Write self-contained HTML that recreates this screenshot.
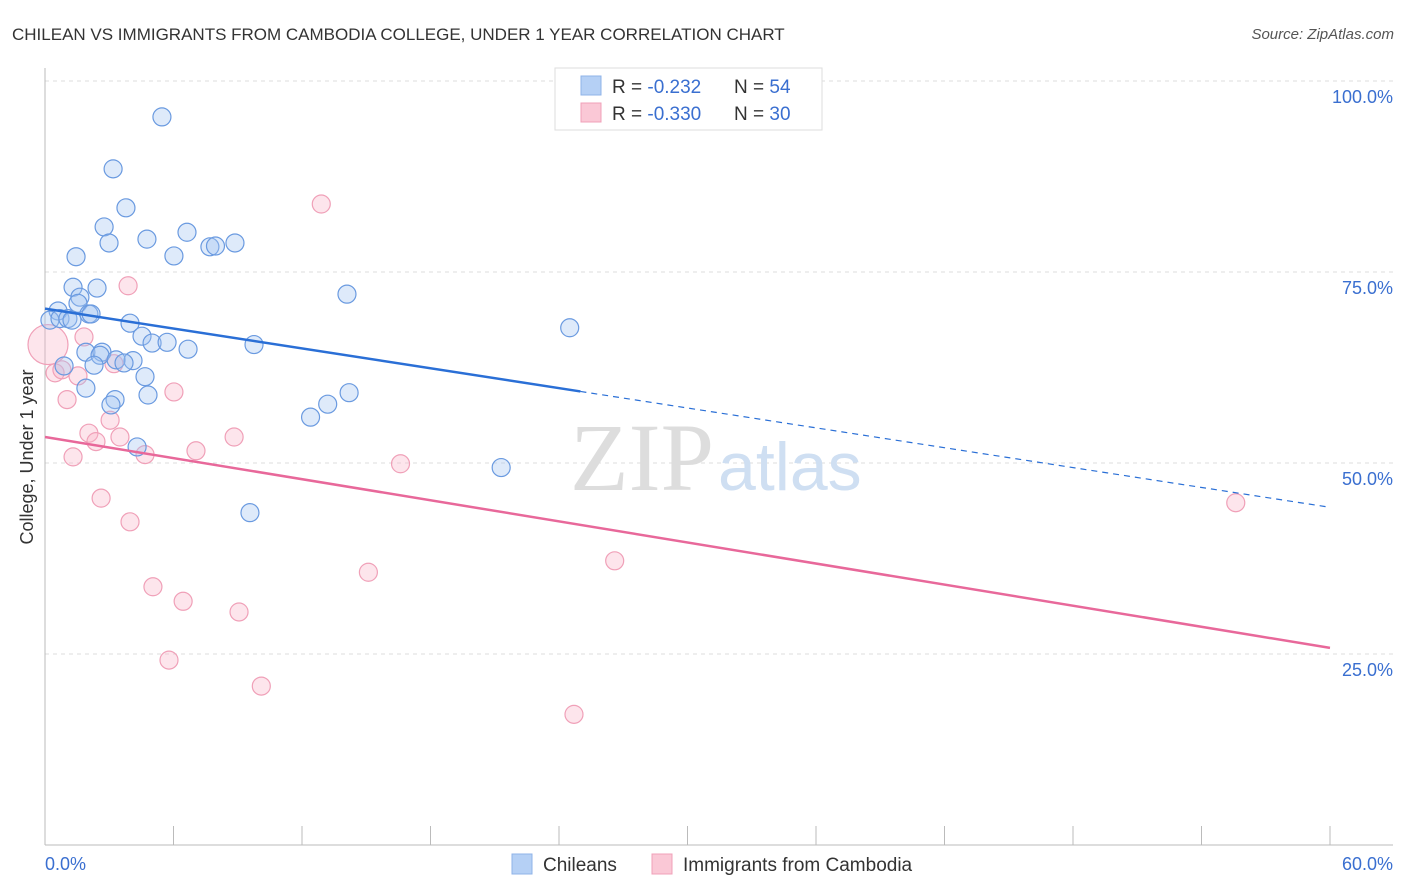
<!DOCTYPE html>
<html><head><meta charset="utf-8"><style>
body{margin:0;background:#fff;font-family:"Liberation Sans",sans-serif}
svg{display:block}
</style></head><body>
<svg width="1406" height="892" xmlns="http://www.w3.org/2000/svg">
<text x="12" y="40" font-size="17" fill="#333">CHILEAN VS IMMIGRANTS FROM CAMBODIA COLLEGE, UNDER 1 YEAR CORRELATION CHART</text>
<text x="1394" y="39" font-size="15" fill="#555" font-style="italic" text-anchor="end">Source: ZipAtlas.com</text>
<g id="grid"></g>
<text x="714" y="490" font-size="96" font-family="Liberation Serif,serif" fill="#ddd" text-anchor="end">ZIP</text>
<text x="718" y="490" font-size="68" fill="#cfdff2">atlas</text>
<line x1="45" y1="68" x2="45" y2="845" stroke="#bbb"/>
<line x1="45" y1="845" x2="1393" y2="845" stroke="#bbb"/>
<g id="ticks"></g>
<g id="pts"></g>
<g id="trends"></g>
<text x="45" y="870" font-size="18" fill="#3a6fd0">0.0%</text>
<text x="1393" y="870" font-size="18" fill="#3a6fd0" text-anchor="end">60.0%</text>
<text transform="translate(33,457) rotate(-90)" font-size="18" fill="#333" text-anchor="middle">College, Under 1 year</text>
<g>
<rect x="555" y="68" width="267" height="62" fill="#fff" stroke="#ddd"/>
<rect x="581" y="76" width="20" height="19" fill="#b5d0f5" stroke="#8fb3e8"/>
<rect x="581" y="103" width="20" height="19" fill="#fac8d6" stroke="#f0a0b8"/>
<text x="612" y="93" font-size="19" fill="#333">R = <tspan fill="#3a6fd0">-0.232</tspan><tspan x="734">N = </tspan><tspan fill="#3a6fd0">54</tspan></text>
<text x="612" y="120" font-size="19" fill="#333">R = <tspan fill="#3a6fd0">-0.330</tspan><tspan x="734">N = </tspan><tspan fill="#3a6fd0">30</tspan></text>
</g>
<g>
<rect x="512" y="854" width="20" height="20" fill="#b5d0f5" stroke="#8fb3e8"/>
<text x="543" y="871" font-size="19" fill="#333">Chileans</text>
<rect x="652" y="854" width="20" height="20" fill="#fac8d6" stroke="#f0a0b8"/>
<text x="683" y="871" font-size="19" fill="#333">Immigrants from Cambodia</text>
</g>
</svg>
<script>
const yTicks=[25,50,75,100];
const yTickLabels=["25.0%","50.0%","75.0%","100.0%"];
const xTicks=[0,6,12,18,24,30,36,42,48,54,60];
const blueX=[5.46,3.18,3.78,2.76,6.63,4.76,2.99,8.87,7.70,7.96,6.02,1.45,1.31,2.43,1.63,1.54,14.1,0.61,2.05,2.15,0.23,0.70,1.07,1.26,3.97,24.5,4.53,5.0,5.7,9.76,6.68,1.91,2.66,2.57,3.32,4.11,3.69,2.29,0.89,4.67,1.91,14.2,4.81,3.27,3.08,13.2,12.4,4.30,21.3,9.57];
const blueY=[95.3,88.5,83.4,80.9,80.2,79.3,78.8,78.8,78.3,78.4,77.1,77.0,73.0,72.9,71.7,70.9,72.1,69.9,69.5,69.5,68.7,68.9,68.9,68.7,68.3,67.7,66.6,65.7,65.8,65.5,64.9,64.5,64.5,64.1,63.5,63.4,63.1,62.8,62.7,61.3,59.8,59.2,58.9,58.3,57.6,57.7,56.0,52.1,49.4,43.5];
const pinkX=[12.9,3.88,1.82,0.14,3.22,0.47,0.79,1.54,6.02,1.03,3.04,2.05,3.50,8.83,2.38,7.05,4.67,1.31,16.6,55.6,2.62,3.97,26.6,15.1,5.04,6.45,9.06,5.79,10.1,24.7];
const pinkY=[83.9,73.2,66.5,65.5,63.0,61.8,62.2,61.4,59.3,58.3,55.6,53.9,53.4,53.4,52.8,51.6,51.1,50.8,49.9,44.8,45.4,42.3,37.2,35.7,33.8,31.9,30.5,24.2,20.8,17.1];
const blueTrend=[70.2,44.2], blueSolidEnd=25;
const pinkTrend=[53.4,25.8];
const X=v=>45+v/60*1285, Y=v=>845-v/100*764;
const NS="http://www.w3.org/2000/svg";
function mk(t,a,p){const e=document.createElementNS(NS,t);for(const k in a)e.setAttribute(k,a[k]);p.appendChild(e);return e;}
const grid=document.getElementById('grid');
yTicks.forEach((t,i)=>{
 const l=mk('line',{x1:45,x2:1393,y1:Y(t),y2:Y(t),stroke:'#ddd','stroke-dasharray':'4,4'},grid);
 
 
 const tx=mk('text',{x:1393,y:Y(t)+22,'font-size':18,fill:'#3a6fd0','text-anchor':'end'},grid);
 tx.textContent=yTickLabels[i];
 
 
});
const ticks=document.getElementById('ticks');
xTicks.forEach(t=>{const l=mk('line',{x1:X(t),x2:X(t),y1:826,y2:845,stroke:'#bbb'},ticks);
 
 });
const pts=document.getElementById('pts');
pinkX.forEach((x,i)=>{const c=mk('circle',{cx:X(x),cy:Y(pinkY[i]),r:i==3?20:9,fill:'rgba(248,180,200,0.35)',stroke:'#f0a0b8','stroke-width':1.2},pts);
 
 });
blueX.forEach((x,i)=>{const c=mk('circle',{cx:X(x),cy:Y(blueY[i]),r:9,fill:'rgba(160,195,240,0.35)',stroke:'#6a9ae0','stroke-width':1.2},pts);
 
 });
const tr=document.getElementById('trends');
const by=x=>blueTrend[0]+(blueTrend[1]-blueTrend[0])*x/60;
let l1=mk('line',{x1:X(0),y1:Y(by(0)),x2:X(blueSolidEnd),y2:Y(by(blueSolidEnd)),stroke:'#2a6fd6','stroke-width':2.5},tr);


let l2=mk('line',{x1:X(blueSolidEnd),y1:Y(by(blueSolidEnd)),x2:X(60),y2:Y(by(60)),stroke:'#2a6fd6','stroke-width':1.2,'stroke-dasharray':'6,5'},tr);


let l3=mk('line',{x1:X(0),y1:Y(pinkTrend[0]),x2:X(60),y2:Y(pinkTrend[1]),stroke:'#e8689a','stroke-width':2.5},tr);


</script>
</body></html>
